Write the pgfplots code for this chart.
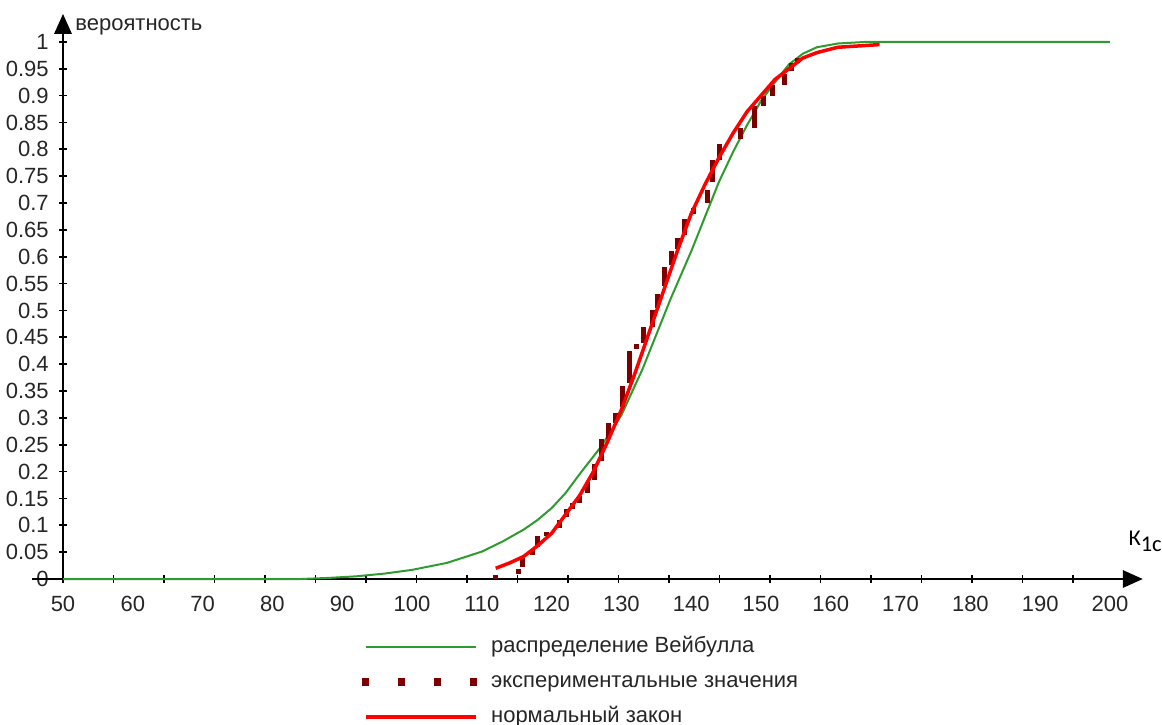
\documentclass[border=0pt]{standalone}
\usepackage{fontspec}
\setmainfont{Liberation Sans}
\newfontfamily\calib{Carlito}
\usepackage{pgfplots}
\pgfplotsset{compat=1.18}
\usetikzlibrary{arrows.meta}
\definecolor{wgreen}{RGB}{45,155,45}
\definecolor{expred}{RGB}{125,0,0}

\begin{document}
\fontsize{8.8}{10.5}\selectfont
\begin{tikzpicture}
\begin{axis}[
    scale only axis,
    width=431.9pt,
    height=227.3pt,
    axis lines=middle,
    axis line style={line width=0.7pt, -{Triangle[length=8pt,width=7pt]}},
    xmin=50, xmax=204.7,
    ymin=-0.006, ymax=1.052,
    clip=false,
    hide obscured x ticks=false,
    hide obscured y ticks=false,
    xtick={50,60,...,200},
    major x tick style={draw=none},
    minor xtick={50,57.235,64.47,71.705,78.94,86.175,93.41,100.645,107.88,115.115,122.35,
                 129.585,136.82,144.055,151.29,158.525,165.76,172.995,180.23,187.465,194.7},
    minor x tick style={black, line width=0.7pt},
    minor tick length=3.2pt,
    ytick={0,0.05,0.1,0.15,0.2,0.25,0.3,0.35,0.4,0.45,0.5,0.55,0.6,0.65,0.7,0.75,0.8,0.85,0.9,0.95,1},
    major y tick style={black, line width=0.7pt},
    major tick length=3.2pt,
    tick align=center,
    /pgf/number format/.cd, fixed, precision=2, assume math mode=true,
    /pgfplots/.cd,
    ticklabel style={font=\fontsize{8.8}{10.5}\selectfont, text=black!85},
    yticklabel style={anchor=east, xshift=-1pt},
    xticklabel style={anchor=north, yshift=-2pt},
    unbounded coords=jump,
    legend style={at={(axis cs:50,0)}, anchor=north west, xshift=116.4pt, yshift=-18.2pt,
        draw=none, fill=none, row sep=0.5pt, column sep=0.4pt,
        font=\fontsize{8.8}{10.5}\selectfont, text=black!85,
        nodes={inner xsep=5.1pt, inner ysep=2.5pt, text height=6.5pt, text depth=2pt}},
    legend cell align=left,
    legend image code/.code={\draw[#1] (0pt,0pt) -- (44pt,0pt);},
]
% Weibull distribution
\addplot[wgreen, line width=0.8pt] coordinates {
    (50,0) (84,0) (88,0.002) (92,0.005) (96,0.01) (100,0.017) (105,0.03)
    (110,0.051) (113,0.07) (116,0.092) (118,0.11) (120,0.132) (122,0.16)
    (124,0.195) (127,0.245) (130,0.305) (133,0.39) (135,0.455) (137,0.52)
    (140,0.61) (142,0.675) (144,0.74) (146,0.795) (148,0.845) (150,0.89)
    (152,0.925) (154,0.958) (156,0.978) (158,0.99) (161,0.997) (165,1.0) (200,1.0)
};
\addlegendentry{распределение Вейбулла}
% experimental values (empirical cdf, ties stack vertically)
\addplot[expred, line width=2pt,
    legend image code/.code={
        \foreach \p in {0pt,14.4pt,28.8pt,43.2pt}{\path[fill=expred] (\p-0.45pt,-0.45pt) rectangle ++(0.9pt,0.9pt);}
    }] coordinates {
    (112.0,0) (112.0,0.008) (112,nan)
    (115.2,0.010) (115.2,0.019) (115.2,nan)
    (115.9,0.022) (115.9,0.042) (115.9,nan)
    (117.2,0.045) (117.2,0.055) (117.2,nan)
    (118.0,0.060) (118.0,0.080) (118.0,nan)
    (119.3,0.080) (119.3,0.088) (119.3,nan)
    (121.2,0.095) (121.2,0.110) (121.2,nan)
    (122.2,0.115) (122.2,0.130) (122.2,nan)
    (123.0,0.130) (123.0,0.142) (123.0,nan)
    (124.0,0.142) (124.0,0.155) (124.0,nan)
    (125.2,0.160) (125.2,0.180) (125.2,nan)
    (126.2,0.185) (126.2,0.215) (126.2,nan)
    (127.2,0.220) (127.2,0.260) (127.2,nan)
    (128.1,0.260) (128.1,0.290) (128.1,nan)
    (129.1,0.290) (129.1,0.310) (129.1,nan)
    (130.2,0.320) (130.2,0.360) (130.2,nan)
    (131.2,0.365) (131.2,0.425) (131.2,nan)
    (132.2,0.428) (132.2,0.437) (132.2,nan)
    (133.1,0.440) (133.1,0.470) (133.1,nan)
    (134.4,0.470) (134.4,0.500) (134.4,nan)
    (135.2,0.505) (135.2,0.530) (135.2,nan)
    (136.2,0.545) (136.2,0.580) (136.2,nan)
    (137.2,0.585) (137.2,0.610) (137.2,nan)
    (138.1,0.615) (138.1,0.635) (138.1,nan)
    (139.1,0.640) (139.1,0.670) (139.1,nan)
    (140.3,0.680) (140.3,0.690) (140.3,nan)
    (142.3,0.700) (142.3,0.725) (142.3,nan)
    (143.0,0.740) (143.0,0.780) (143.0,nan)
    (144.0,0.780) (144.0,0.810) (144.0,nan)
    (147.0,0.820) (147.0,0.840) (147.0,nan)
    (149.1,0.840) (149.1,0.880) (149.1,nan)
    (150.3,0.880) (150.3,0.900) (150.3,nan)
    (151.6,0.900) (151.6,0.920) (151.6,nan)
    (153.4,0.920) (153.4,0.940) (153.4,nan)
    (154.4,0.945) (154.4,0.960) (154.4,nan)
    (155.3,0.960) (155.3,0.970)
};
\addlegendentry{экспериментальные значения}
% normal law
\addplot[red, line width=1.4pt] coordinates {
    (112,0.02) (114,0.03) (116,0.042) (118,0.062) (120,0.085) (122,0.12)
    (124,0.155) (126,0.2) (128,0.255) (130,0.315) (132,0.385) (134,0.46)
    (136,0.535) (138,0.61) (140,0.68) (142,0.735) (144,0.785) (146,0.83)
    (148,0.87) (150,0.90) (152,0.93) (154,0.95) (156,0.97) (158,0.98)
    (161,0.99) (167,0.995)
};
\addlegendentry{нормальный закон}
\coordinate (O) at (axis cs:50,0);
\draw[line width=0.7pt] (axis cs:50,0) -- ++(-12.4pt,0pt);
\node[anchor=base west, inner sep=0pt, text=black!85] at (axis cs:51.7,1.022) {вероятность};
\node[anchor=base west, inner sep=0pt, font=\calib\fontsize{9}{10}\selectfont] at (axis cs:202.6,0.063) {К\raisebox{-0.55ex}{1c}};
\end{axis}
\pgfresetboundingbox
\path (O) ++(-25.2pt,-58pt) rectangle ++(464.8pt,289.6pt);
\end{tikzpicture}
\end{document}
